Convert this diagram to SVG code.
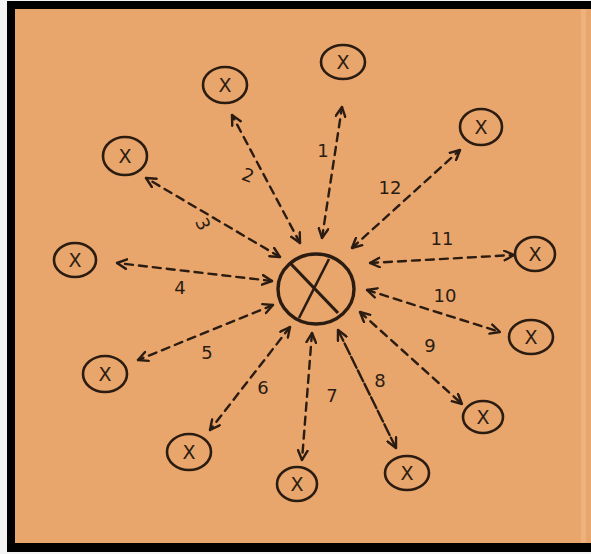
<svg xmlns="http://www.w3.org/2000/svg" width="591" height="554" viewBox="0 0 591 554">
  <style>
    .edge { stroke: #2b1c12; stroke-width: 2.4; fill: none; stroke-dasharray: 8 6; stroke-linecap: round; marker-start: url(#chev); marker-end: url(#chev); }
    .node circle { fill: none; stroke: #2b1c12; stroke-width: 2.6; }
    .node text { font-family: "DejaVu Sans", "Liberation Sans", sans-serif; font-size: 19px; fill: #2b1c12; text-anchor: middle; dominant-baseline: central; }
    .lbl { font-family: "DejaVu Sans", "Liberation Sans", sans-serif; font-size: 18px; fill: #2b1c12; text-anchor: middle; dominant-baseline: central; }
  </style>
  <defs>
    <marker id="chev" viewBox="0 0 10 10" refX="9" refY="5" markerWidth="12" markerHeight="12" markerUnits="userSpaceOnUse" orient="auto-start-reverse">
      <path d="M1,1 L9,5 L1,9" fill="none" stroke="#2b1c12" stroke-width="2" stroke-linecap="round" stroke-linejoin="round"/>
    </marker>
  </defs>

  <!-- frame -->
  <rect x="0" y="0" width="591" height="554" fill="#f4f4f4"/>
  <rect x="7" y="1" width="584" height="551" fill="#000"/>
  <rect x="15" y="9" width="576" height="534" fill="#E8A56C"/>
  <rect x="581" y="9" width="5" height="534" fill="#EDB27E"/>

  <g id="connectors">
    <line class="edge" x1="322" y1="238" x2="342" y2="107"/>
    <line class="edge" x1="300" y1="243" x2="232" y2="115"/>
    <line class="edge" x1="280" y1="257" x2="146" y2="178"/>
    <line class="edge" x1="272" y1="281" x2="117" y2="263"/>
    <line class="edge" x1="273" y1="305" x2="138" y2="360"/>
    <line class="edge" x1="290" y1="327" x2="210" y2="430"/>
    <line class="edge" x1="312" y1="333" x2="302" y2="460"/>
    <line class="edge" x1="338" y1="330" x2="396" y2="448" style="stroke-dasharray: 12 3"/>
    <line class="edge" x1="360" y1="312" x2="462" y2="404"/>
    <line class="edge" x1="367" y1="290" x2="500" y2="332"/>
    <line class="edge" x1="370" y1="263" x2="514" y2="255"/>
    <line class="edge" x1="352" y1="248" x2="460" y2="150"/>
  </g>

  <g id="labels">
    <text class="lbl" x="323" y="150">1</text>
    <text class="lbl" x="248" y="175" transform="rotate(20 248 175)">2</text>
    <text class="lbl" x="203" y="224" transform="rotate(65 203 224)">3</text>
    <text class="lbl" x="180" y="287">4</text>
    <text class="lbl" x="207" y="352">5</text>
    <text class="lbl" x="263" y="387">6</text>
    <text class="lbl" x="332" y="395">7</text>
    <text class="lbl" x="380" y="380">8</text>
    <text class="lbl" x="430" y="345">9</text>
    <text class="lbl" x="445" y="295">10</text>
    <text class="lbl" x="442" y="238">11</text>
    <text class="lbl" x="390" y="187">12</text>
  </g>

  <g id="center" class="node">
    <ellipse cx="316" cy="289" rx="38" ry="35" fill="none" stroke="#2b1c12" stroke-width="3.4"/>
    <line x1="291" y1="264" x2="338" y2="313" stroke="#2b1c12" stroke-width="3.2"/>
    <line x1="329" y1="259" x2="299" y2="318" stroke="#2b1c12" stroke-width="2.6"/>
  </g>

  <g id="n1" class="node"><ellipse cx="343" cy="62" rx="22" ry="17" fill="none" stroke="#2b1c12" stroke-width="2.6"/><text x="343" y="62">X</text></g>
  <g id="n2" class="node"><ellipse cx="225" cy="85" rx="22" ry="18" fill="none" stroke="#2b1c12" stroke-width="2.6"/><text x="225" y="85">X</text></g>
  <g id="n3" class="node"><ellipse cx="125" cy="156" rx="22" ry="19" fill="none" stroke="#2b1c12" stroke-width="2.6"/><text x="125" y="156">X</text></g>
  <g id="n4" class="node"><ellipse cx="75" cy="260" rx="21" ry="17" fill="none" stroke="#2b1c12" stroke-width="2.6"/><text x="75" y="260">X</text></g>
  <g id="n5" class="node"><ellipse cx="105" cy="374" rx="22" ry="18" fill="none" stroke="#2b1c12" stroke-width="2.6"/><text x="105" y="374">X</text></g>
  <g id="n6" class="node"><ellipse cx="189" cy="452" rx="22" ry="18" fill="none" stroke="#2b1c12" stroke-width="2.6"/><text x="189" y="452">X</text></g>
  <g id="n7" class="node"><ellipse cx="297" cy="484" rx="20" ry="17" fill="none" stroke="#2b1c12" stroke-width="2.6"/><text x="297" y="484">X</text></g>
  <g id="n8" class="node"><ellipse cx="407" cy="473" rx="22" ry="17" fill="none" stroke="#2b1c12" stroke-width="2.6"/><text x="407" y="473">X</text></g>
  <g id="n9" class="node"><ellipse cx="483" cy="417" rx="20" ry="16" fill="none" stroke="#2b1c12" stroke-width="2.6"/><text x="483" y="417">X</text></g>
  <g id="n10" class="node"><ellipse cx="531" cy="337" rx="22" ry="17" fill="none" stroke="#2b1c12" stroke-width="2.6"/><text x="531" y="337">X</text></g>
  <g id="n11" class="node"><ellipse cx="535" cy="254" rx="20" ry="17" fill="none" stroke="#2b1c12" stroke-width="2.6"/><text x="535" y="254">X</text></g>
  <g id="n12" class="node"><ellipse cx="481" cy="127" rx="21" ry="18" fill="none" stroke="#2b1c12" stroke-width="2.6"/><text x="481" y="127">X</text></g>
</svg>
